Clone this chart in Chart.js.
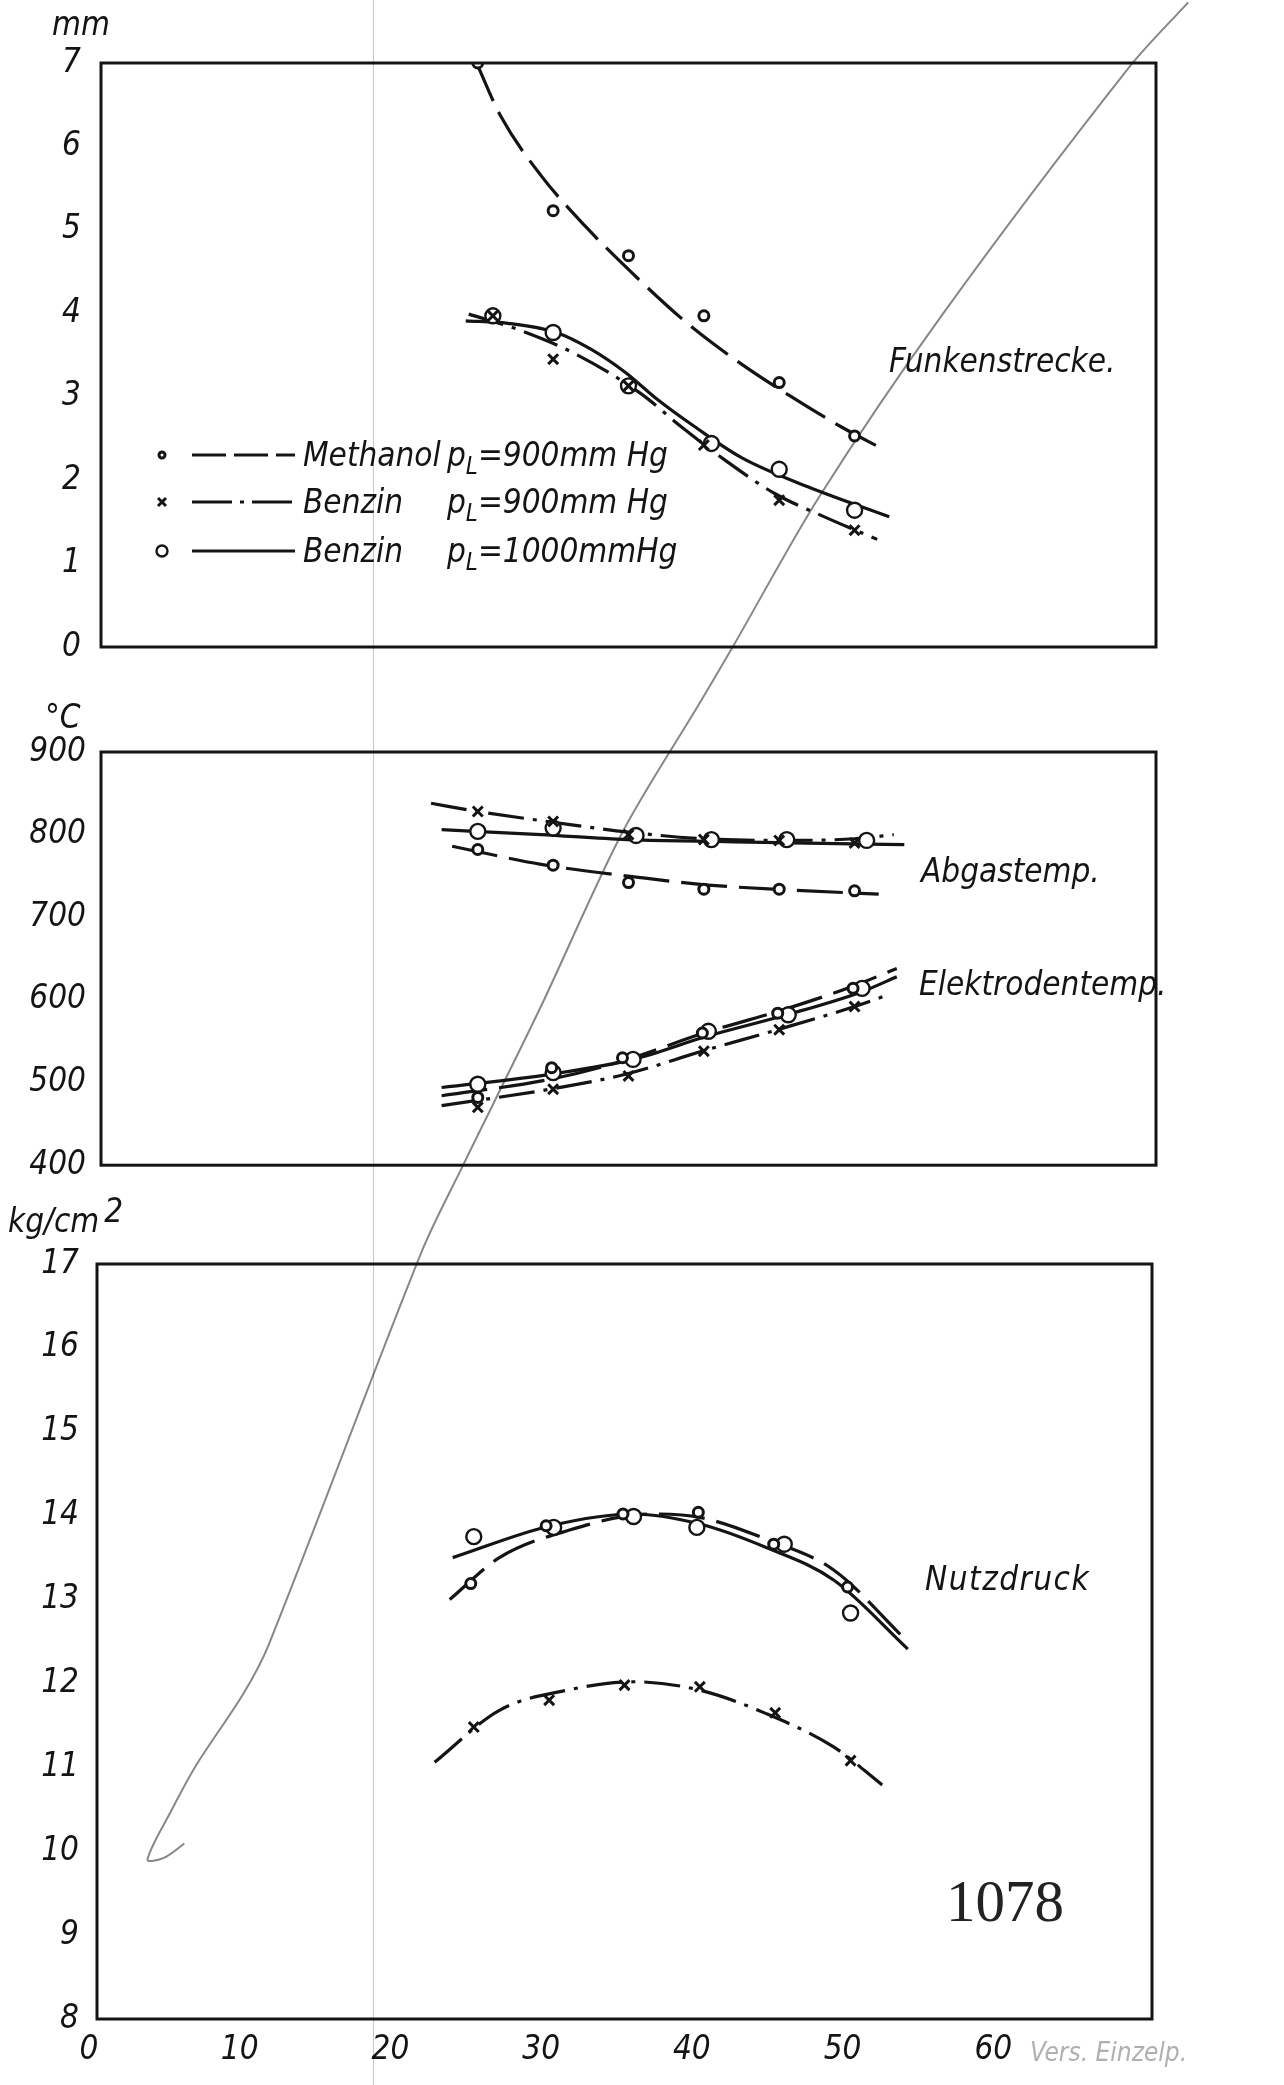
<!DOCTYPE html>
<html>
<head>
<meta charset="utf-8">
<script src="https://cdn.jsdelivr.net/npm/chart.js@4.4.0/dist/chart.umd.min.js"></script>
<style>
  body { margin: 0; width: 1284px; height: 2085px; background: #fff; position: relative; overflow: hidden; }
  canvas { position: absolute; left: 0; }
  #cDruck { top: 0; z-index: 0; }
  #cFunk { top: 0; z-index: 1; }
  #cTemp { top: 700px; z-index: 1; }
  .lbl { position: absolute; z-index: 2; font: italic 33px "Liberation Sans Narrow", "DejaVu Sans Condensed", sans-serif; line-height: 33px; color: #141414; white-space: pre; }
  .lbl sub { font-size: 24px; vertical-align: -8px; line-height: 0; }
  .lbl sup { font-size: 33px; position: relative; top: -10px; vertical-align: baseline; margin-left: 5px; }
  .stamp { position: absolute; z-index: 2; font: 59px "Liberation Serif", serif; line-height: 59px; color: #222; }
  .fold { position: absolute; z-index: 3; top: 0; left: 373px; width: 1px; height: 2085px; background: rgba(0, 0, 0, 0.22); }
</style>
</head>
<body>
<canvas id="cDruck" width="1284" height="2085"></canvas>
<canvas id="cFunk" width="1284" height="700"></canvas>
<canvas id="cTemp" width="1284" height="500"></canvas>
<div class="fold"></div>

<div class="lbl" style="left:52px;top:7px">mm</div>
<div class="lbl" style="left:45px;top:700px">°C</div>
<div class="lbl" style="left:8px;top:1204px">kg/cm<sup>2</sup></div>

<div class="lbl" style="left:889px;top:344px">Funkenstrecke.</div>
<div class="lbl" style="left:921px;top:854px">Abgastemp.</div>
<div class="lbl" style="left:919px;top:967px">Elektrodentemp.</div>
<div class="lbl" style="left:925px;top:1562px;letter-spacing:1.5px">Nutzdruck</div>
<div class="stamp" style="left:946px;top:1872px">1078</div>
<div class="lbl" style="left:1030px;top:2036px;color:#b0b0b0;font-size:26px">Vers. Einzelp.</div>

<div class="lbl" style="left:303px;top:438px">Methanol</div>
<div class="lbl" style="left:447px;top:438px">p<sub>L</sub>=900mm Hg</div>
<div class="lbl" style="left:303px;top:485px">Benzin</div>
<div class="lbl" style="left:447px;top:485px">p<sub>L</sub>=900mm Hg</div>
<div class="lbl" style="left:303px;top:534px">Benzin</div>
<div class="lbl" style="left:447px;top:534px">p<sub>L</sub>=1000mmHg</div>

<script>
// x axis
const xTicks = [0, 10, 20, 30, 40, 50, 60];
const xMax = 70;
const xPts = [25, 30, 35, 40, 45, 50];

// y ticks
const funkTicks = [0, 1, 2, 3, 4, 5, 6, 7];
const tempTicks = [400, 500, 600, 700, 800, 900];
const druckTicks = [8, 9, 10, 11, 12, 13, 14, 15, 16, 17];

// Funkenstrecke, mm - measured points
const funkMeth = [7.0, 5.23, 4.69, 3.97, 3.17, 2.53];
const funkB900X = [26, 30, 35, 40, 45, 50];
const funkB900 = [3.97, 3.45, 3.13, 2.42, 1.76, 1.40];
const funkB1000X = [26, 30, 35, 40.5, 45, 50];
const funkB1000 = [3.97, 3.77, 3.13, 2.44, 2.13, 1.64];
// Funkenstrecke - drawn curves
const funkMethCurveX = [24.8, 26.5, 29.2, 32.1, 35.2, 38.9, 42.5, 45.8, 49.1, 51.8];
const funkMethCurve = [7.05, 6.37, 5.65, 5.05, 4.49, 3.88, 3.39, 3.0, 2.64, 2.38];
const funkB900CurveX = [24.4, 27.6, 31.4, 35.8, 38.5, 41.4, 44.7, 48.0, 51.5];
const funkB900Curve = [3.99, 3.81, 3.52, 3.04, 2.64, 2.24, 1.84, 1.56, 1.29];
const funkB1000CurveX = [24.2, 27.0, 30.2, 32.5, 34.8, 36.9, 39.4, 42.5, 46.9, 52.3];
const funkB1000Curve = [3.91, 3.88, 3.77, 3.57, 3.29, 2.97, 2.64, 2.27, 1.92, 1.56];

// Abgastemp., °C
const abgMeth = [782, 763, 742, 734, 734, 732];
const abgB900 = [828, 816, 800, 794, 793, 790];
const abgB1000X = [25, 30, 35.5, 40.5, 45.5, 50.8];
const abgB1000 = [804, 808, 799, 794, 794, 793];
const abgMethCurveX = [23.3, 29.2, 35.8, 40.3, 45.8, 51.6];
const abgMethCurve = [786, 764, 748, 739, 733, 728];
const abgB900CurveX = [21.9, 25, 30, 35, 40, 45, 50, 52.6];
const abgB900Curve = [838, 828, 815, 803, 795, 793, 795, 800];
const abgB1000CurveX = [22.6, 29.2, 34.9, 40.3, 45.8, 53.3];
const abgB1000Curve = [806, 800, 794, 792, 790, 788];

// Elektrodentemp., °C
const elMethX = [25, 29.9, 34.6, 39.9, 44.9, 49.9];
const elMeth = [482, 518, 530, 560, 584, 614];
const elB900 = [470, 492, 508, 538, 564, 592];
const elB1000X = [25, 30, 35.3, 40.3, 45.6, 50.5];
const elB1000 = [498, 512, 528, 562, 582, 614];
const elMethCurveX = [22.6, 29.8, 34.6, 40.0, 44.9, 49.8, 52.8];
const elMethCurve = [484, 504, 526, 560, 586, 616, 638];
const elB900CurveX = [22.6, 29.8, 34.8, 39.9, 44.9, 50.0, 52.2];
const elB900Curve = [472, 492, 510, 538, 564, 592, 606];
const elB1000CurveX = [22.6, 29.8, 35.3, 40.2, 45.5, 50.5, 52.8];
const elB1000Curve = [494, 510, 528, 556, 582, 610, 628];

// Nutzdruck, kg/cm2
const nuMethX = [24.8, 29.8, 34.9, 39.9, 44.9, 49.8];
const nuMeth = [13.19, 13.88, 14.02, 14.04, 13.66, 13.15];
const nuB900 = [11.48, 11.80, 11.98, 11.96, 11.65, 11.08];
const nuB1000X = [25, 30.3, 35.6, 39.8, 45.6, 50];
const nuB1000 = [13.75, 13.86, 13.99, 13.86, 13.66, 12.84];
const nuMethCurveX = [23.4, 26.7, 31.2, 36.7, 40.0, 44.4, 48.9, 53.5];
const nuMethCurve = [13.0, 13.5, 13.82, 14.02, 13.98, 13.72, 13.35, 12.55];
const nuB900CurveX = [22.4, 26.7, 31.2, 35.6, 40.0, 44.4, 48.9, 52.1];
const nuB900Curve = [11.06, 11.68, 11.92, 12.02, 11.92, 11.64, 11.24, 10.79];
const nuB1000CurveX = [23.6, 30.1, 35.6, 40.0, 44.4, 48.9, 53.8];
const nuB1000Curve = [13.50, 13.88, 14.02, 13.90, 13.62, 13.23, 12.41];

// the grey line that shows through the sheet, in kg/cm2 units
const throughX = [5.79, 4.43, 3.35, 4.98, 6.6, 9.75, 11.39, 21.55, 24.27, 29.43, 34.87, 40.03, 42.1, 47.9, 56.1, 68.5, 72.4];
const throughY = [10.09, 9.92, 9.9, 10.5, 11.03, 11.89, 12.46, 17.15, 18.17, 20.06, 22.15, 23.70, 24.33, 26.14, 28.32, 31.27, 32.04];

const INK = "#141414";
const FONT = '"Liberation Sans Narrow", "DejaVu Sans Condensed", sans-serif';
const DASH_METH = [46, 12];
const DASH_B900 = [36, 9, 4, 9];

const styles = {
    meth: { dash: DASH_METH, pointStyle: "circle", radius: 5, borderWidth: 3 },
    b900: { dash: DASH_B900, pointStyle: "crossRot", radius: 7, borderWidth: 3 },
    b1000: { dash: [], pointStyle: "circle", radius: 7.5, borderWidth: 2.4 }
};

function pairs(xs, ys) {
    return xs.map((x, i) => ({ x: x, y: ys[i] }));
}

function curve(xs, ys, kind) {
    return {
        data: pairs(xs, ys),
        showLine: true,
        borderColor: INK,
        borderWidth: 3.2,
        borderDash: styles[kind].dash,
        pointRadius: 0,
        cubicInterpolationMode: "monotone",
        order: 2
    };
}

function marks(xs, ys, kind) {
    const s = styles[kind];
    return {
        data: pairs(xs, ys),
        showLine: false,
        pointStyle: s.pointStyle,
        pointRadius: s.radius,
        pointBorderWidth: s.borderWidth,
        pointBorderColor: INK,
        pointBackgroundColor: "#fff",
        order: 1
    };
}

const framePlugin = {
    id: "frame",
    afterDatasetsDraw(chart) {
        const a = chart.chartArea;
        const ctx = chart.ctx;
        ctx.save();
        ctx.strokeStyle = INK;
        ctx.lineWidth = 3;
        ctx.strokeRect(a.left, a.top, a.right - a.left, a.bottom - a.top);
        ctx.restore();
    }
};

// line samples and markers of the key in the top panel
const keyPlugin = {
    id: "key",
    afterDraw(chart) {
        const ctx = chart.ctx;
        const rows = [["meth", 455], ["b900", 502], ["b1000", 551]];
        ctx.save();
        ctx.strokeStyle = INK;
        ctx.fillStyle = "#fff";
        rows.forEach(function (r) {
            const s = styles[r[0]];
            const y = r[1];
            ctx.lineWidth = 3.2;
            ctx.setLineDash(r[0] === "meth" ? [34, 8] : (r[0] === "b900" ? [40, 8, 4, 8] : []));
            ctx.beginPath();
            ctx.moveTo(192, y);
            ctx.lineTo(295, y);
            ctx.stroke();
            ctx.setLineDash([]);
            ctx.lineWidth = s.borderWidth;
            ctx.beginPath();
            if (s.pointStyle === "crossRot") {
                const d = 4;
                ctx.moveTo(162 - d, y - d); ctx.lineTo(162 + d, y + d);
                ctx.moveTo(162 + d, y - d); ctx.lineTo(162 - d, y + d);
                ctx.stroke();
            } else {
                ctx.arc(162, y, s.radius - 2, 0, Math.PI * 2);
                ctx.fill();
                ctx.stroke();
            }
        });
        ctx.restore();
    }
};

function yScale(ticks, pad) {
    return {
        min: ticks[0],
        max: ticks[ticks.length - 1],
        afterBuildTicks: s => { s.ticks = ticks.map(v => ({ value: v })); },
        afterFit: s => { s.width = 101; },
        grid: { display: false, drawTicks: false },
        border: { display: false },
        ticks: { color: INK, padding: pad, font: { family: FONT, size: 33, style: "italic" } }
    };
}

function options(ticks, pad, padding, xShown) {
    return {
        responsive: false,
        animation: false,
        devicePixelRatio: 1,
        layout: { padding: padding },
        plugins: { legend: { display: false }, tooltip: { enabled: false } },
        scales: {
            x: {
                type: "linear",
                min: 0,
                max: xMax,
                display: xShown,
                afterBuildTicks: s => { s.ticks = xTicks.map(v => ({ value: v })); },
                afterFit: s => { s.height = xShown ? 66 : 0; },
                grid: { display: false, drawTicks: false },
                border: { display: false },
                ticks: { color: INK, padding: 12, labelOffset: -8, maxRotation: 0,
                    font: { family: FONT, size: 33, style: "italic" } }
            },
            y: yScale(ticks, pad)
        }
    };
}

new Chart(document.getElementById("cFunk"), {
    type: "scatter",
    data: {
        datasets: [
            curve(funkMethCurveX, funkMethCurve, "meth"),
            curve(funkB900CurveX, funkB900Curve, "b900"),
            curve(funkB1000CurveX, funkB1000Curve, "b1000"),
            marks(xPts, funkMeth, "meth"),
            marks(funkB900X, funkB900, "b900"),
            marks(funkB1000X, funkB1000, "b1000")
        ]
    },
    options: options(funkTicks, 20, { left: 0, right: 128, top: 63, bottom: 53 }, false),
    plugins: [framePlugin, keyPlugin]
});

new Chart(document.getElementById("cTemp"), {
    type: "scatter",
    data: {
        datasets: [
            curve(abgMethCurveX, abgMethCurve, "meth"),
            curve(abgB900CurveX, abgB900Curve, "b900"),
            curve(abgB1000CurveX, abgB1000Curve, "b1000"),
            curve(elMethCurveX, elMethCurve, "meth"),
            curve(elB900CurveX, elB900Curve, "b900"),
            curve(elB1000CurveX, elB1000Curve, "b1000"),
            marks(xPts, abgMeth, "meth"),
            marks(xPts, abgB900, "b900"),
            marks(abgB1000X, abgB1000, "b1000"),
            marks(elMethX, elMeth, "meth"),
            marks(xPts, elB900, "b900"),
            marks(elB1000X, elB1000, "b1000")
        ]
    },
    options: options(tempTicks, 15, { left: 0, right: 128, top: 52, bottom: 34 }, false),
    plugins: [framePlugin]
});

const through = {
    data: pairs(throughX, throughY),
    showLine: true,
    borderColor: "rgba(95, 95, 95, 0.75)",
    borderWidth: 2,
    pointRadius: 0,
    tension: 0.3,
    clip: false,
    order: 9
};

new Chart(document.getElementById("cDruck"), {
    type: "scatter",
    data: {
        datasets: [
            through,
            curve(nuMethCurveX, nuMethCurve, "meth"),
            curve(nuB900CurveX, nuB900Curve, "b900"),
            curve(nuB1000CurveX, nuB1000Curve, "b1000"),
            marks(nuMethX, nuMeth, "meth"),
            marks(xPts, nuB900, "b900"),
            marks(nuB1000X, nuB1000, "b1000")
        ]
    },
    options: options(druckTicks, 18, { left: -4, right: 132, top: 1264, bottom: 0 }, true),
    plugins: [framePlugin]
});
</script>
</body>
</html>
